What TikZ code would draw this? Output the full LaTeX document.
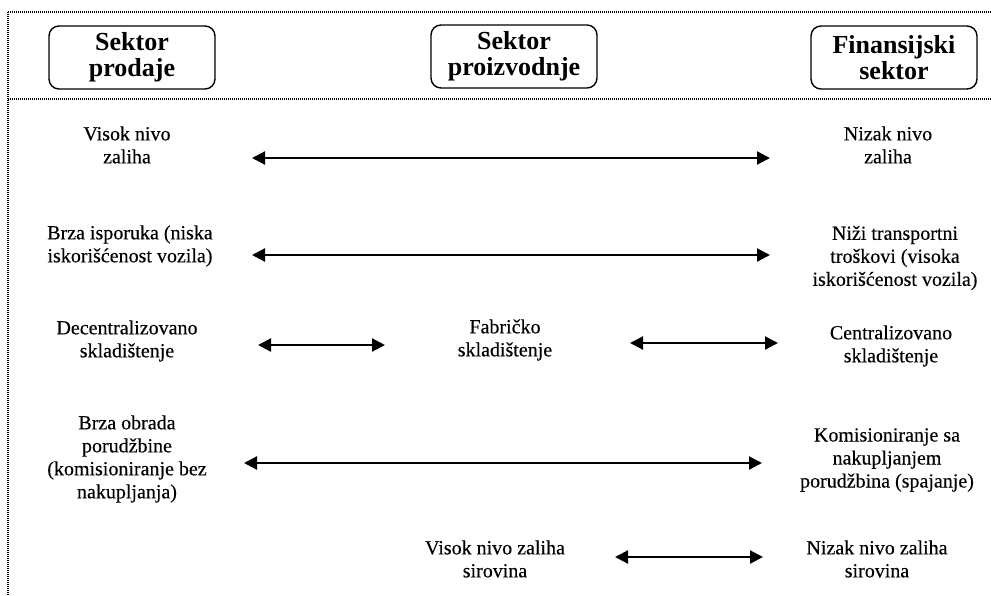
\documentclass[tikz,border=0pt]{standalone}
\usepackage{fontspec}
\setmainfont{Liberation Serif}
\newfontfamily\bodyfont{Liberation Serif}[FakeBold=0.25]
\usetikzlibrary{arrows.meta}
\begin{document}
\begin{tikzpicture}[x=1pt,y=-1pt,
  sep/.style={line width=1.2pt,dash pattern=on 1pt off 1pt},
  head/.style={draw,line width=1.4pt,rounded corners=10pt,minimum width=166pt,minimum height=63pt,inner sep=0pt,align=center,font=\fontsize{26}{26}\selectfont\bfseries},
  txt/.style={inner sep=0pt,align=center,font=\bodyfont\fontsize{20}{23}\selectfont},
  conn/.style={line width=2.2pt,{Triangle[length=13pt,width=13pt]}-{Triangle[length=13pt,width=13pt]}}]
\useasboundingbox (0,0) rectangle (991,595);
\coordinate (tl) at (8,12);
\coordinate (tr) at (991,12);
\coordinate (ml) at (8,99);
\coordinate (mr) at (991,99);
\coordinate (bl) at (8,595);
\draw[sep] (tl) -- (tr);
\draw[sep] (ml) -- (mr);
\draw[sep] (tl) -- (bl);
\node[head] (h1) at (132,57.5) {Sektor\\prodaje};
\node[head] (h2) at (514,56.5) {Sektor\\proizvodnje};
\node[head] (h3) at (894,57.5) {Finansijski\\sektor};
\node[txt] (l1) at (127,145) {Visok nivo\\zaliha};
\node[txt] (r1) at (888,145) {Nizak nivo\\zaliha};
\node[txt] (l2) at (130,246) {Brza isporuka (niska\\iskorišćenost vozila)};
\node[txt] (r2) at (895,258) {Niži transportni\\troškovi (visoka\\iskorišćenost vozila)};
\node[txt] (l3) at (127,341) {Decentralizovano\\skladištenje};
\node[txt] (m3) at (505,340) {Fabričko\\skladištenje};
\node[txt] (r3) at (891,346) {Centralizovano\\skladištenje};
\node[txt] (l4) at (127,459) {Brza obrada\\porudžbine\\(komisioniranje bez\\nakupljanja)};
\node[txt] (r4) at (887,460) {Komisioniranje sa\\nakupljanjem\\porudžbina (spajanje)};
\node[txt] (m5) at (495,559) {Visok nivo zaliha\\sirovina};
\node[txt] (r5) at (877,559) {Nizak nivo zaliha\\sirovina};
\coordinate (a1s) at (252,158); \coordinate (a1e) at (770,158);
\coordinate (a2s) at (252,255); \coordinate (a2e) at (770,255);
\coordinate (a3s) at (258,345); \coordinate (a3e) at (385,345);
\coordinate (a4s) at (630,343); \coordinate (a4e) at (778,343);
\coordinate (a5s) at (244,463); \coordinate (a5e) at (762,463);
\coordinate (a6s) at (615,557); \coordinate (a6e) at (763,557);
\draw[conn] (a1s) -- (a1e);
\draw[conn] (a2s) -- (a2e);
\draw[conn] (a3s) -- (a3e);
\draw[conn] (a4s) -- (a4e);
\draw[conn] (a5s) -- (a5e);
\draw[conn] (a6s) -- (a6e);
\end{tikzpicture}
\end{document}
